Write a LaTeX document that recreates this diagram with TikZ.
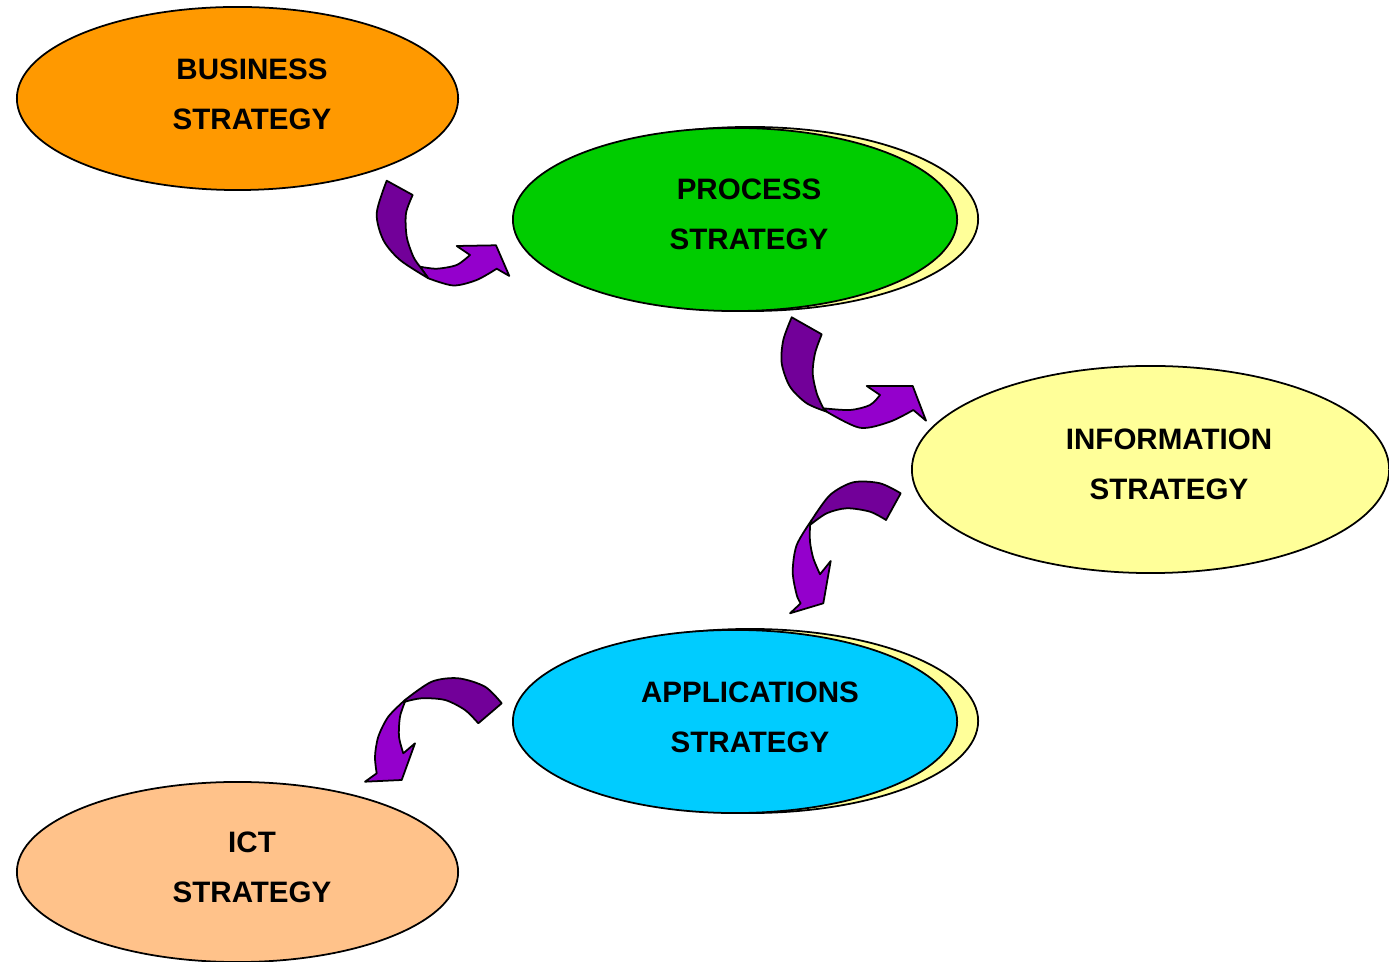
\documentclass[tikz,border=0pt]{standalone}
\usepackage{fontspec}
\setmainfont{Liberation Sans}
\usetikzlibrary{shapes.geometric}
\definecolor{bizorange}{HTML}{FF9900}
\definecolor{procgreen}{HTML}{00CC00}
\definecolor{infoyellow}{HTML}{FFFF99}
\definecolor{appcyan}{HTML}{00CCFF}
\definecolor{ictorange}{HTML}{FFC28A}
\definecolor{arrdark}{HTML}{720099}
\definecolor{arrlight}{HTML}{9400CC}
\tikzset{
  ell/.style={ellipse, draw=black, line width=0.5pt, inner sep=0pt},
  lbl/.style={align=center, font=\bfseries\fontsize{8.4}{14.2}\selectfont},
  adark/.style={fill=arrdark, draw=black, line width=0.5pt, line join=round},
  alight/.style={fill=arrlight, draw=black, line width=0.5pt, line join=round}
}
\begin{document}
\begin{tikzpicture}[x=0.01cm, y=-0.01cm]
\useasboundingbox (0,0) rectangle (1389,962);
% ellipses
\node[ell, fill=bizorange, minimum width=4.41cm, minimum height=1.83cm] (biz) at (237.5,98.5) {};
\node[ell, fill=infoyellow, minimum width=4.56cm, minimum height=1.84cm] (procsh) at (750,219) {};
\node[ell, fill=procgreen, minimum width=4.44cm, minimum height=1.83cm] (proc) at (735,219.5) {};
\node[ell, fill=infoyellow, minimum width=4.77cm, minimum height=2.07cm] (info) at (1150.5,469.5) {};
\node[ell, fill=infoyellow, minimum width=4.56cm, minimum height=1.84cm] (appsh) at (750,721) {};
\node[ell, fill=appcyan, minimum width=4.44cm, minimum height=1.83cm] (app) at (735,721.5) {};
\node[ell, fill=ictorange, minimum width=4.41cm, minimum height=1.80cm] (ict) at (237.5,872) {};
% labels
\node[lbl] (tbiz) at (252,94) {BUSINESS\\STRATEGY};
\node[lbl] (tproc) at (749,214) {PROCESS\\STRATEGY};
\node[lbl] (tinfo) at (1169,464) {INFORMATION\\STRATEGY};
\node[lbl] (tapp) at (750,717) {APPLICATIONS\\STRATEGY};
\node[lbl] (tict) at (252,867) {ICT\\STRATEGY};
% arrow 1: business -> process
\path[alight] plot[smooth] coordinates {(420,266.7) (436.7,268.7) (456.7,265) (470,255)} -- (456.7,246) -- (496,245.3) -- (509.3,276) -- (496.7,268.7)
  -- plot[smooth] coordinates {(496.7,268.7) (476.7,280) (453.3,285.5) (428.3,278.3)} -- cycle;
\path[adark] plot[smooth] coordinates {(386.7,180.7) (376.7,213.3) (383.3,240) (400,260) (428.3,278.3)}
  -- plot[smooth] coordinates {(420,266.7) (413.3,256.7) (406.7,236.7) (406,213.3) (412.7,195)} -- cycle;
% arrow 2: process -> information
\path[alight] plot[smooth] coordinates {(823.3,408.3) (850,410) (870,405) (880,395)} -- (866.7,386) -- (912.7,386) -- (926,420.7) -- (913.3,410)
  -- plot[smooth] coordinates {(913.3,410) (890,421.7) (860,427.8) (826.7,411.7)} -- cycle;
\path[adark] plot[smooth] coordinates {(791.7,317.3) (783.3,340) (781.7,363.3) (790,386.7) (806.7,403.3) (826.7,411.7)}
  -- plot[smooth] coordinates {(823.3,408.3) (816.7,393.3) (812.7,373.3) (815,353.3) (821.7,334.3)} -- cycle;
% arrow 3: information -> applications
\path[alight] plot[smooth] coordinates {(811.7,520) (796.7,545) (792.7,571.7) (796.7,595) (800.7,603.3)} -- (790,613.3) -- (823.3,603.3) -- (830.7,561) -- (820,574.3)
  -- plot[smooth] coordinates {(820,574.3) (813.3,558.3) (810,541.7) (810,525)} -- cycle;
\path[adark] plot[smooth] coordinates {(900.7,493.3) (880,483.3) (853.3,482.3) (830,495) (811.7,520)}
  -- plot[smooth] coordinates {(810,525) (826.7,513.3) (846.7,508.3) (870,511.7) (886,520)} -- cycle;
% arrow 4: applications -> ict
\path[alight] plot[smooth] coordinates {(405,700) (388.3,716.7) (378.3,736.7) (375,756.7) (376.7,773.3)} -- (365,781.7) -- (401.7,780) -- (415,743.3) -- (403.3,753.3)
  -- plot[smooth] coordinates {(403.3,753.3) (399,736.7) (400,716.7) (405,701.7)} -- cycle;
\path[adark] plot[smooth] coordinates {(501.7,703.3) (485,686.7) (458.3,678.3) (431.7,681.7) (405,700)}
  -- plot[smooth] coordinates {(405,701.7) (421.7,698.3) (445,700) (465,710) (478.3,723.3)} -- cycle;
\end{tikzpicture}
\end{document}
